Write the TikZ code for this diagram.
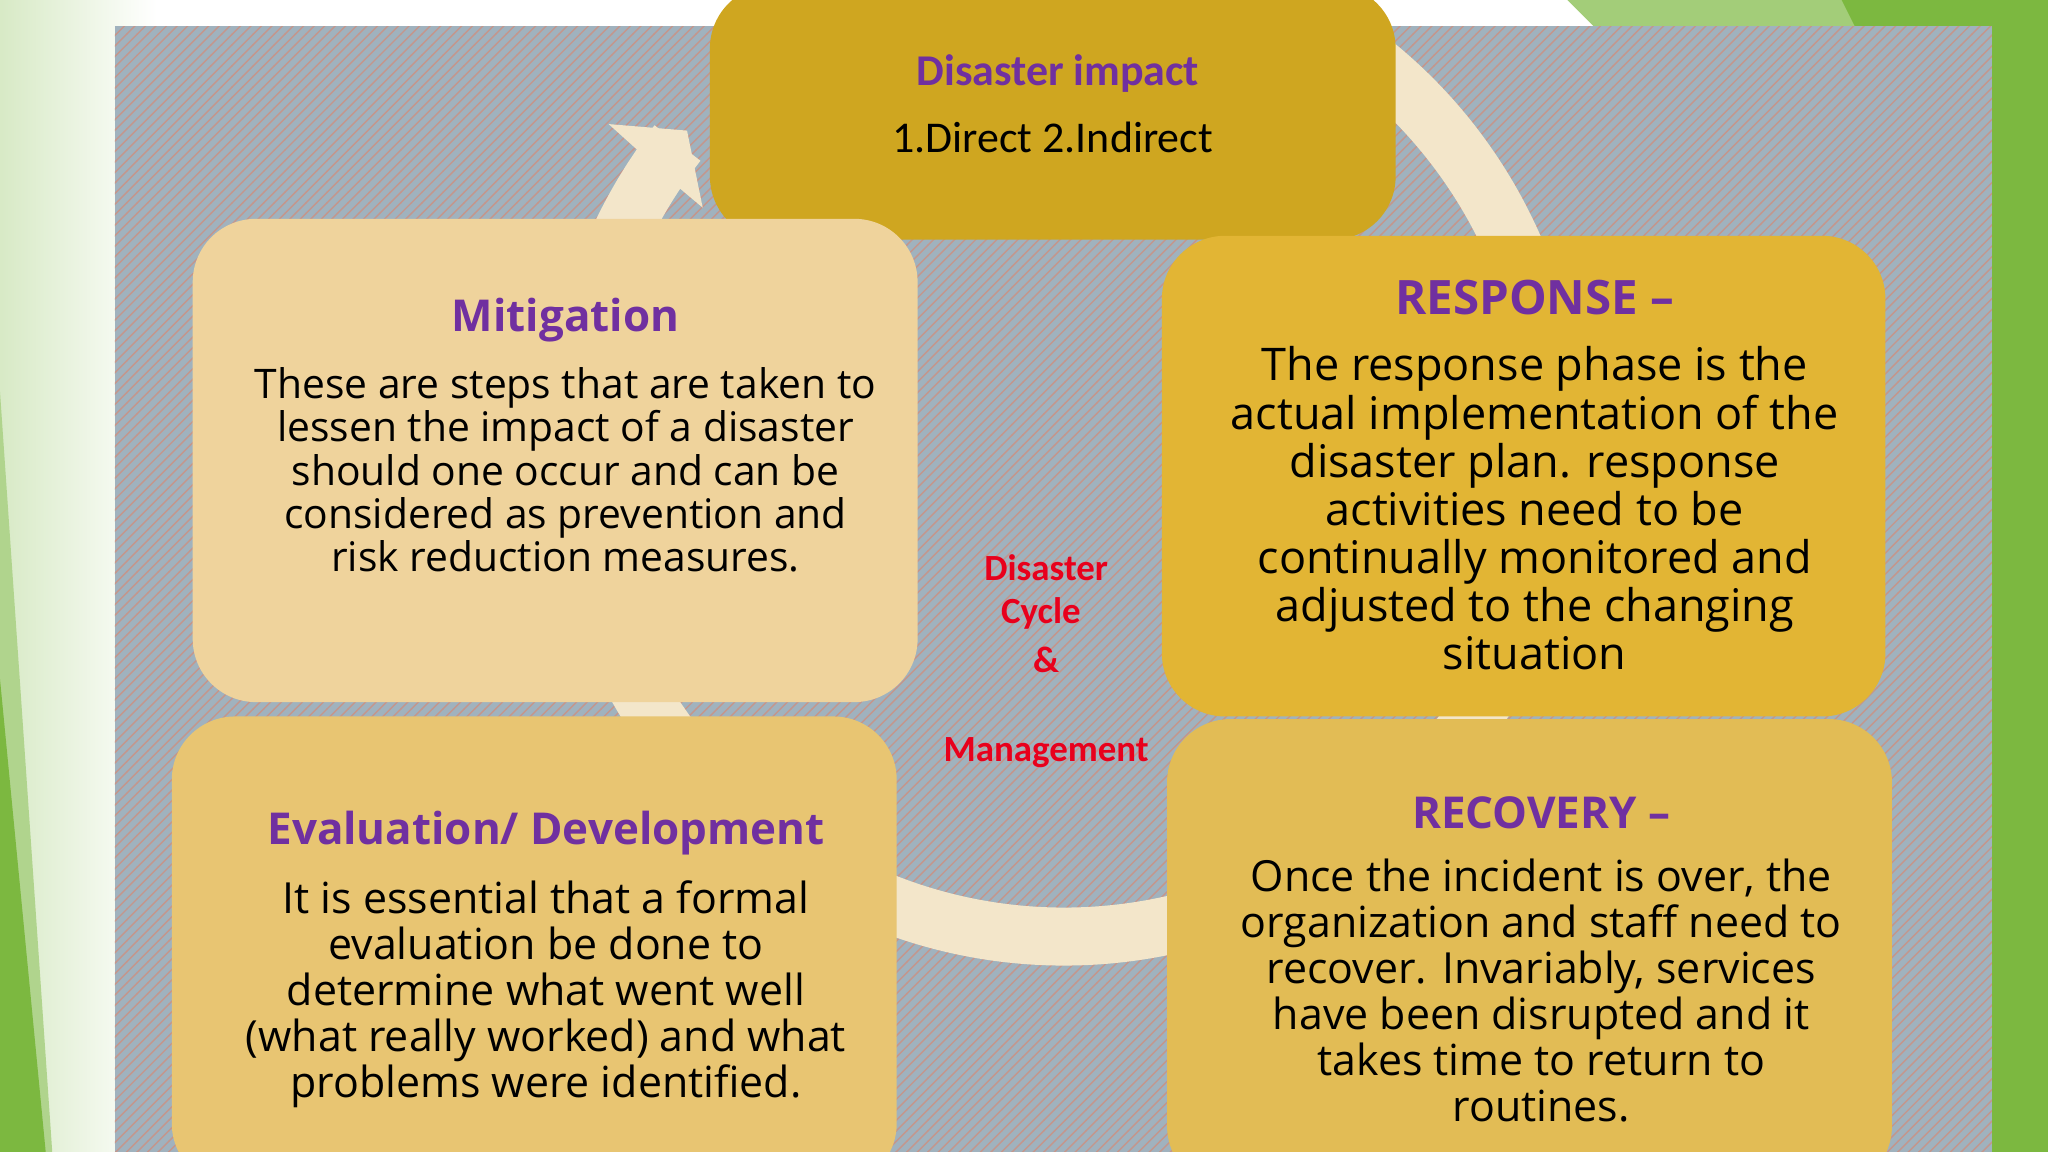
\documentclass[tikz,border=0pt]{standalone}
\usepackage{fontspec}
\setmainfont{Open Sans}
\newfontfamily\carl{Carlito}
\usetikzlibrary{patterns}
\definecolor{purp}{HTML}{7030A0}
\definecolor{redt}{HTML}{E8001C}
\definecolor{cream}{HTML}{F3E6CA}
\definecolor{gr}{HTML}{7CB840}
\tikzset{
 card/.style={rounded corners=18pt,inner sep=0pt},
 ttl/.style={font=\fontsize{12.5}{14}\selectfont\bfseries,text=purp,align=center},
 bod/.style={align=center,text=black},
 redl/.style={font=\carl\fontsize{10.5}{12}\selectfont\bfseries,text=redt}
}
\begin{document}
\begin{tikzpicture}[x=0.01306cm,y=-0.01306cm]
\useasboundingbox (0,0) rectangle (1568,882);
\shade[left color=gr!30!white,right color=white] (0,0) rectangle (120,882);
% green decorations
\fill[gr!60!white] (0,300) -- (40,882) -- (0,882) -- cycle;
\fill[gr] (0,520) -- (35,882) -- (0,882) -- cycle;
\fill[gr!70!white] (1200,0) -- (1568,0) -- (1568,30) -- (1230,30) -- cycle;
\fill[gr] (1410,0) -- (1568,0) -- (1568,882) -- (1525,882) -- (1525,20) -- (1420,20) -- cycle;
% hatched panel
\fill[color={rgb,255:red,160;green,178;blue,190}] (88,20) rectangle (1525,882);
\fill[pattern=north east lines,pattern color={rgb,255:red,196;green,150;blue,140}] (88,20) rectangle (1525,882);
% cycle arrow
\coordinate (cc) at (815,341);
\draw[cream,line width=0.58cm] ([shift={(-60:376)}]cc) arc[start angle=-60,end angle=218,radius=376];
\fill[cream] (466,95) -- (526,100) -- (538,159) -- (519,143) -- (486,113) -- cycle;
% boxes
\node[card,fill={rgb,255:red,207;green,166;blue,32},minimum width=525*0.01306cm,minimum height=195*0.01306cm,anchor=north west] (top) at (543,-12) {};
\node[font=\carl\fontsize{12.5}{14}\selectfont\bfseries,text=purp] (toph) at (810,56) {Disaster impact};
\node[font=\carl\fontsize{12.5}{14}\selectfont] (topb) at (806,105) {1.Direct 2.Indirect};

\node[card,fill={rgb,255:red,239;green,211;blue,156},minimum width=555*0.01306cm,minimum height=370*0.01306cm,anchor=north west] (mit) at (147,167) {};
\node[ttl] (mith) at (433,245) {Mitigation};
\node[bod,font=\fontsize{11.6}{12.3}\selectfont,anchor=north] (mitb) at (433,272) {These are steps that are taken to\\lessen the impact of a disaster\\should one occur and can be\\considered as prevention and\\risk reduction measures.};

\node[card,fill={rgb,255:red,226;green,181;blue,52},minimum width=554*0.01306cm,minimum height=368*0.01306cm,anchor=north west] (res) at (889,180) {};
\node[ttl,font=\fontsize{13.5}{15}\selectfont\bfseries] (resh) at (1175,228) {RESPONSE –};
\node[bod,font=\fontsize{12.8}{13.7}\selectfont,anchor=north] (resb) at (1175,256) {The response phase is the\\actual implementation of the\\disaster plan. response\\activities need to be\\continually monitored and\\adjusted to the changing\\situation};

\node[card,fill={rgb,255:red,232;green,197;blue,114},minimum width=555*0.01306cm,minimum height=360*0.01306cm,anchor=north west] (eva) at (131,548) {};
\node[ttl] (evah) at (418,638) {Evaluation/ Development};
\node[bod,font=\fontsize{12.2}{13.1}\selectfont,anchor=north] (evab) at (418,665) {It is essential that a formal\\evaluation be done to\\determine what went well\\(what really worked) and what\\problems were identified.};

\node[card,fill={rgb,255:red,226;green,188;blue,85},minimum width=555*0.01306cm,minimum height=360*0.01306cm,anchor=north west] (rec) at (893,550) {};
\node[ttl] (rech) at (1180,622) {RECOVERY –};
\node[bod,font=\fontsize{12.2}{13.1}\selectfont,anchor=north] (recb) at (1180,648) {Once the incident is over, the\\organization and staff need to\\recover. Invariably, services\\have been disrupted and it\\takes time to return to\\routines.};

% centre label
\node[redl] (r1) at (801,435) {Disaster};
\node[redl] (r2) at (797,470) {Cycle};
\node[redl] (r3) at (801,505) {\&};
\node[redl] (r4) at (801,576) {Management};
\end{tikzpicture}
\end{document}
